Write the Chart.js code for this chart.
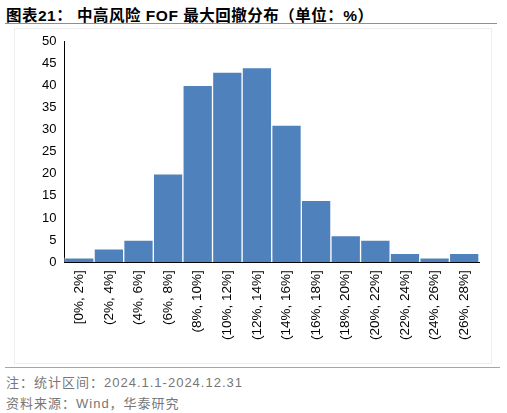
<!DOCTYPE html>
<html><head><meta charset="utf-8">
<script src="https://cdn.jsdelivr.net/npm/chart.js@4"></script>
<style>
body{margin:0;width:507px;height:413px;background:#fff;font-family:"Liberation Sans","Noto Sans CJK SC",sans-serif;position:relative;overflow:hidden}
#title{position:absolute;left:6px;top:3px;font-size:15.5px;font-weight:bold;color:#000;letter-spacing:0.5px;font-family:"Liberation Sans","Noto Sans CJK SC",sans-serif}
#l1{position:absolute;left:5px;top:23px;width:492px;height:1px;background:#6f94c8}
#box{position:absolute;left:14px;top:28px;width:478px;height:336px;border:1px solid #eee;box-sizing:border-box}
#l2{position:absolute;left:5px;top:367px;width:495px;height:1px;background:#8fa9d6}
.n{position:absolute;left:6px;font-size:13px;color:#777;letter-spacing:1px}
</style></head><body>
<div id="title">图表21：  中高风险 FOF 最大回撤分布（单位：%）</div>
<div id="l1"></div>
<div id="box"><canvas id="c"></canvas></div>
<div id="l2"></div>
<div class="n" style="top:372px">注：统计区间：2024.1.1-2024.12.31</div>
<div class="n" style="top:393px">资料来源：Wind，华泰研究</div>
<script>
const categories=["[0%, 2%]","(2%, 4%]","(4%, 6%]","(6%, 8%]","(8%, 10%]","(10%, 12%]","(12%, 14%]","(14%, 16%]","(16%, 18%]","(18%, 20%]","(20%, 22%]","(22%, 24%]","(24%, 26%]","(26%, 28%]"];
const values=[1,3,5,20,40,43,44,31,14,6,5,2,1,2];
const c=document.getElementById('c');
c.width=476;c.height=334;c.style.width='476px';c.style.height='334px';
new Chart(c,{type:'bar',data:{labels:categories,datasets:[{data:values,backgroundColor:'#4f81bd',borderColor:'#ffffff',borderWidth:1,barPercentage:1,categoryPercentage:1}]},
options:{responsive:false,animation:false,layout:{padding:{top:12,right:12,left:24,bottom:20}},
plugins:{legend:{display:false},tooltip:{enabled:false}},
scales:{
x:{grid:{display:false,drawTicks:true,tickLength:5,tickColor:'#000'},border:{color:'#000'},offset:true,
ticks:{color:'#000',minRotation:90,maxRotation:90,font:{size:13.5,family:'Liberation Sans'}}},
y:{min:0,max:50,grid:{display:false,drawTicks:true,tickLength:5,tickColor:'#000'},border:{color:'#000'},
ticks:{stepSize:5,color:'#000',font:{size:13,family:'Liberation Sans'}}}}}});
</script></body></html>
